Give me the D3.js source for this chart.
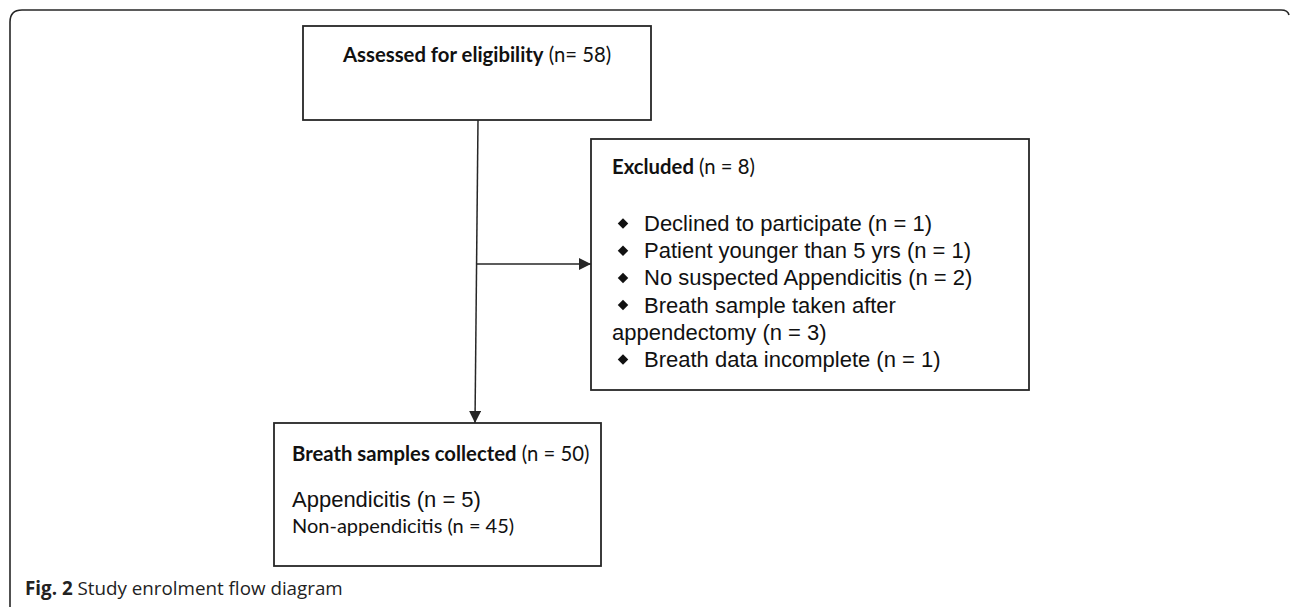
<!DOCTYPE html>
<html>
<head>
<meta charset="utf-8">
<script src="https://cdn.jsdelivr.net/npm/d3@7"></script>
<style>
  html, body { margin: 0; padding: 0; background: #fff; }
  svg { display: block; }
</style>
</head>
<body>
<svg id="chart" width="1290" height="607"></svg>
<script>
// Flow diagram content
const stepTitles = ["Assessed for eligibility", "Excluded", "Breath samples collected"];
const stepCounts = [58, 8, 50];
const exclusionReasons = ["Declined to participate", "Patient younger than 5 yrs", "No suspected Appendicitis", "Breath sample taken after", "appendectomy", "Breath data incomplete"];
const exclusionCounts = [1, 1, 2, null, 3, 1];
const exclusionBullets = [true, true, true, true, false, true];
const outcomeGroups = ["Appendicitis", "Non-appendicitis"];
const outcomeCounts = [5, 45];
const captionLabel = "Fig. 2";
const captionText = " Study enrolment flow diagram";

const width = 1290, height = 607;
const ink = "#262626";
const calibri = "Lato, 'Open Sans', sans-serif";
const arial = "'Liberation Sans', Arial, sans-serif";

const svg = d3.select("#chart");

svg.append("defs").append("marker")
  .attr("id", "arrow")
  .attr("viewBox", "0 -5 10 10")
  .attr("refX", 10)
  .attr("refY", 0)
  .attr("markerWidth", 13)
  .attr("markerHeight", 12)
  .attr("markerUnits", "userSpaceOnUse")
  .attr("orient", "auto")
  .append("path")
  .attr("fill", ink)
  .attr("d", "M0,-5L10,0L0,5Z");

// Outer figure frame (open at the bottom)
svg.append("path")
  .attr("fill", "none")
  .attr("stroke", ink)
  .attr("stroke-width", 1.6)
  .attr("d", "M10,607 L10,22 Q10,10 22,10 L1281,10 Q1288,10 1289,15");

// Boxes
const boxes = [
  { x: 303, y: 26, w: 348, h: 94 },
  { x: 591, y: 139, w: 438, h: 251 },
  { x: 274, y: 423, w: 327, h: 143 }
];
svg.append("g")
  .selectAll("rect")
  .data(boxes)
  .join("rect")
  .attr("x", d => d.x)
  .attr("y", d => d.y)
  .attr("width", d => d.w)
  .attr("height", d => d.h)
  .attr("fill", "#fff")
  .attr("stroke", ink)
  .attr("stroke-width", 1.8);

// Connectors
const links = svg.append("g")
  .attr("stroke", ink)
  .attr("stroke-width", 1.5)
  .attr("fill", "none");
links.append("line")
  .attr("x1", 478).attr("y1", 120)
  .attr("x2", 475).attr("y2", 423)
  .attr("marker-end", "url(#arrow)");
links.append("line")
  .attr("x1", 477).attr("y1", 264)
  .attr("x2", 591).attr("y2", 264)
  .attr("marker-end", "url(#arrow)");

// Titles: bold label + regular count
function titleText(x, y, label, count) {
  const t = svg.append("text")
    .attr("x", x).attr("y", y)
    .attr("font-family", calibri)
    .attr("font-size", 20.3)
    .attr("fill", "#111");
  t.append("tspan").attr("font-weight", 700).text(label);
  t.append("tspan").text(count);
  return t;
}
titleText(343, 62, stepTitles[0], ` (n= ${stepCounts[0]})`);
titleText(612, 174, stepTitles[1], ` (n = ${stepCounts[1]})`);
titleText(292, 461, stepTitles[2], ` (n = ${stepCounts[2]})`);

// Exclusion reasons
const rowY = d3.scalePoint()
  .domain(d3.range(exclusionReasons.length))
  .range([231, 367]);

const rows = svg.append("g")
  .selectAll("g")
  .data(exclusionReasons.map((r, i) => ({ r, c: exclusionCounts[i], b: exclusionBullets[i], i })))
  .join("g")
  .attr("transform", d => `translate(0,${rowY(d.i)})`);
rows.filter(d => d.b)
  .append("path")
  .attr("d", d3.symbol(d3.symbolDiamond2, 70))
  .attr("transform", "translate(623,-7.5)")
  .attr("fill", "#111");
rows.append("text")
  .attr("x", d => d.b ? 644 : 612)
  .attr("font-family", arial)
  .attr("font-size", 22)
  .attr("fill", "#111")
  .text(d => d.c == null ? d.r : `${d.r} (n = ${d.c})`);

// Outcome groups
svg.append("text")
  .attr("x", 292).attr("y", 507)
  .attr("font-family", arial)
  .attr("font-size", 22)
  .attr("fill", "#111")
  .text(`${outcomeGroups[0]} (n = ${outcomeCounts[0]})`);
svg.append("text")
  .attr("x", 292).attr("y", 533)
  .attr("font-family", calibri)
  .attr("font-size", 20)
  .attr("fill", "#111")
  .text(`${outcomeGroups[1]} (n = ${outcomeCounts[1]})`);

// Caption
const cap = svg.append("text")
  .attr("x", 25).attr("y", 595)
  .attr("font-family", "'Open Sans', sans-serif")
  .attr("font-size", 18.8)
  .attr("fill", "#222");
cap.append("tspan").attr("font-weight", 700).text(captionLabel);
cap.append("tspan").text(captionText);
</script>
</body>
</html>
